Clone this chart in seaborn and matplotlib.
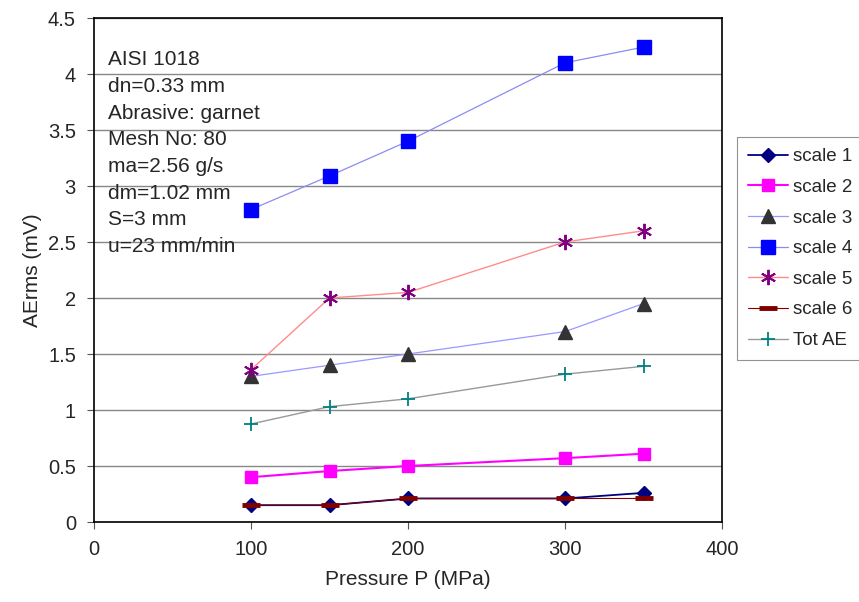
import matplotlib
matplotlib.use("Agg")
import matplotlib.pyplot as plt
import seaborn as sns
import pandas as pd

sns.set_style("white")
plt.rcParams["font.family"] = ["Liberation Sans", "DejaVu Sans"]

pressure = [100, 150, 200, 300, 350]
scale1 = [0.15, 0.15, 0.21, 0.21, 0.26]
scale2 = [0.40, 0.455, 0.50, 0.57, 0.61]
scale3 = [1.30, 1.40, 1.50, 1.70, 1.95]
scale4 = [2.79, 3.09, 3.40, 4.10, 4.24]
scale5 = [1.36, 2.00, 2.05, 2.50, 2.60]
scale6 = [0.15, 0.15, 0.21, 0.21, 0.21]
tot_ae = [0.875, 1.03, 1.10, 1.32, 1.39]

series_names = ["scale 1", "scale 2", "scale 3", "scale 4", "scale 5", "scale 6", "Tot AE"]
series_values = [scale1, scale2, scale3, scale4, scale5, scale6, tot_ae]

info_lines = ["AISI 1018", "dn=0.33 mm", "Abrasive: garnet", "Mesh No: 80",
              "ma=2.56 g/s", "dm=1.02 mm", "S=3 mm", "u=23 mm/min"]

styles = {
    "scale 1": dict(color="#000080", marker="D", mfc="#000080", mec="#000080", ms=7.5, lw=1.3),
    "scale 2": dict(color="#FF00FF", marker="s", mfc="#FF00FF", mec="#FF00FF", ms=9, lw=1.5),
    "scale 3": dict(color="#9999FF", marker="^", mfc="#333333", mec="#333333", ms=10, lw=0.9),
    "scale 4": dict(color="#8C8CF0", marker="s", mfc="#0000FF", mec="#0000FF", ms=9.5, lw=0.9),
    "scale 5": dict(color="#FF8C8C", marker=(6, 2, 0), mfc="#800080", mec="#800080", ms=11, lw=1.0, mew=1.4),
    "scale 6": dict(color="#800000", marker="_", mfc="#800000", mec="#800000", ms=13, lw=0.8, mew=3.5),
    "Tot AE": dict(color="#999999", marker="+", mfc="#008080", mec="#008080", ms=10, lw=1.0, mew=1.3),
}

fig = plt.figure(figsize=(8.59, 6.02), dpi=100)
ax = fig.add_axes([94 / 859, 80 / 602, 628 / 859, 504 / 602])

for name, vals in zip(series_names, series_values):
    st = styles[name]
    df = pd.DataFrame({"P": pressure, "v": vals})
    sns.lineplot(data=df, x="P", y="v", ax=ax, color=st["color"], linewidth=st["lw"],
                 marker=st["marker"], markersize=st["ms"], markerfacecolor=st["mfc"],
                 markeredgecolor=st["mec"], markeredgewidth=st.get("mew", 1.0),
                 label=name, zorder=3)

ax.set_xlim(0, 400)
ax.set_ylim(0, 4.5)
ax.set_xticks([0, 100, 200, 300, 400])
ax.set_yticks([0, 0.5, 1, 1.5, 2, 2.5, 3, 3.5, 4, 4.5])
ax.set_yticklabels(["0", "0.5", "1", "1.5", "2", "2.5", "3", "3.5", "4", "4.5"])
ax.yaxis.grid(True, color="#888888", linewidth=1.0)
ax.xaxis.grid(False)
ax.set_axisbelow(True)
for sp in ax.spines.values():
    sp.set_color("black")
    sp.set_linewidth(1.2)
ax.tick_params(axis="both", which="major", direction="out", length=5, width=0.8,
               color="#555555", labelsize=14.5, pad=8, left=True, bottom=True)
ax.set_xlabel("Pressure P (MPa)", fontsize=15, labelpad=8)
ax.set_ylabel("AErms (mV)", fontsize=15, labelpad=4)

ax.text(0.022, 0.936, "\n".join(info_lines), transform=ax.transAxes, fontsize=15,
        va="top", ha="left", linespacing=1.51)

leg = ax.legend(loc="upper left", bbox_to_anchor=(737 / 859, (602 - 137) / 602),
                bbox_transform=fig.transFigure, frameon=True, fontsize=13.5,
                handlelength=2.1, labelspacing=0.72, borderpad=0.6, borderaxespad=0,
                handletextpad=0.3, fancybox=False)
leg.get_frame().set_edgecolor("#777777")
leg.get_frame().set_linewidth(0.8)

fig.savefig("out.png", dpi=100)
